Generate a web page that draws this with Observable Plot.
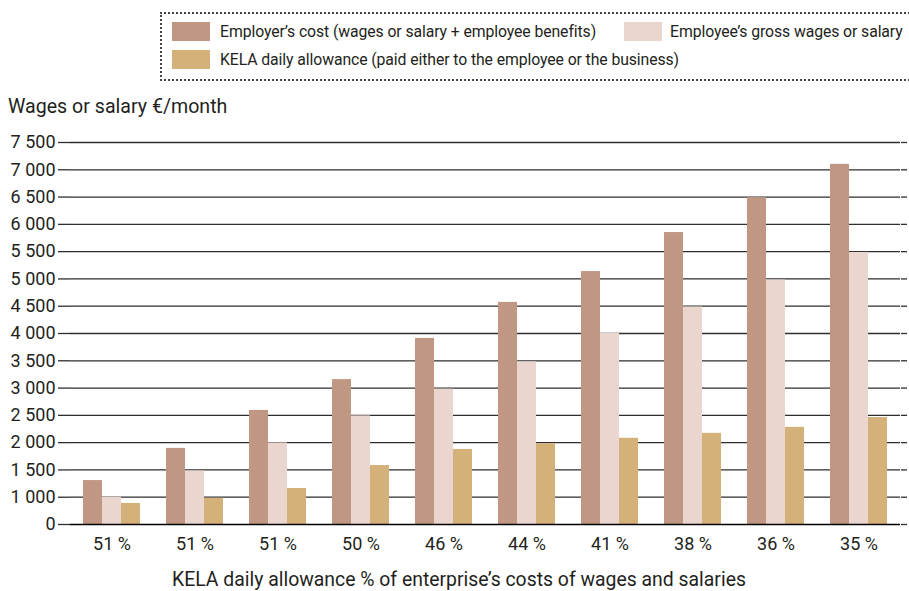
<!DOCTYPE html>
<html>
<head>
<meta charset="utf-8">
<script src="https://cdn.jsdelivr.net/npm/d3@7"></script>
<script src="https://cdn.jsdelivr.net/npm/@observablehq/plot@0.6"></script>
<style>
  html, body { margin: 0; padding: 0; background: #fff; }
  body { font-family: Roboto, "Liberation Sans", sans-serif; color: #231f20; }
  #wrap { position: relative; width: 909px; height: 591px; overflow: hidden; }
  .abs { position: absolute; white-space: nowrap; line-height: 1; }
  #legendBox { position: absolute; left: 160px; top: 12px; width: 800px; height: 65px;
    border-top: 2px dotted #444; border-bottom: 2px dotted #444; border-left: 2px dotted #444; }
  .sw { position: absolute; width: 38px; height: 19px; }
  .lt { font-size: 15.8px; letter-spacing: -0.1px; }
  #chart { position: absolute; left: 0; top: 120px; }
</style>
</head>
<body>
<div id="wrap">
  <div id="legendBox"></div>
  <div id="legend"></div>
  <div class="abs" id="ytitle" style="left:8px; top:97px; font-size:19.6px;"></div>
  <div id="chart"></div>
  <div class="abs" id="xtitle" style="left:0; width:918px; text-align:center; top:570px; font-size:19.4px;"></div>
</div>
<script>
// ---- data ----
const groups = ["51 %", "51 %", "51 %", "50 %", "46 %", "44 %", "41 %", "38 %", "36 %", "35 %"];
const seriesNames = [
  "Employer’s cost (wages or salary + employee benefits)",
  "Employee’s gross wages or salary",
  "KELA daily allowance (paid either to the employee or the business)"
];
const seriesColors = ["#bf9782", "#ead6ce", "#d5b17a"];
const employerCost = [1305, 1895, 2590, 3155, 3910, 4570, 5135, 5850, 6490, 7100];
const grossWages   = [1000, 1480, 1995, 2490, 2980, 3480, 4000, 4485, 4980, 5485];
const kelaAllowance = [885, 980, 1160, 1580, 1875, 1980, 2080, 2170, 2280, 2460];
const yFloor = 500;
const yTickValues = [500, 1000, 1500, 2000, 2500, 3000, 3500, 4000, 4500, 5000, 5500, 6000, 6500, 7000, 7500];
const yTickLabels = ["0", "1 000", "1 500", "2 000", "2 500", "3 000", "3 500", "4 000", "4 500", "5 000", "5 500", "6 000", "6 500", "7 000", "7 500"];
const yTitle = "Wages or salary €/month";
const xTitle = "KELA daily allowance % of enterprise’s costs of wages and salaries";

// ---- table ----
const seriesValues = [employerCost, grossWages, kelaAllowance];
const rows = [];
groups.forEach((g, i) => {
  seriesNames.forEach((s, j) => rows.push({gi: i, series: s, value: seriesValues[j][i]}));
});
const tickLabel = new Map(yTickValues.map((v, i) => [v, yTickLabels[i]]));

// ---- legend ----
const legend = document.getElementById("legend");
const legendPos = [
  {sx: 172, sy: 22, tx: 220, ty: 23.5},
  {sx: 624, sy: 22, tx: 670, ty: 23.5},
  {sx: 172, sy: 50, tx: 220, ty: 51.5}
];
seriesNames.forEach((s, j) => {
  const p = legendPos[j];
  const sw = document.createElement("div");
  sw.className = "sw";
  sw.style.left = p.sx + "px"; sw.style.top = p.sy + "px"; sw.style.background = seriesColors[j];
  legend.appendChild(sw);
  const t = document.createElement("div");
  t.className = "abs lt";
  t.style.left = p.tx + "px"; t.style.top = p.ty + "px";
  t.textContent = s;
  legend.appendChild(t);
});
document.getElementById("ytitle").textContent = yTitle;
document.getElementById("xtitle").textContent = xTitle;

// ---- chart ----
const chart = Plot.plot({
  width: 909,
  height: 440,
  marginTop: 22,
  marginBottom: 36,
  marginLeft: 67,
  marginRight: 6,
  style: {fontFamily: "Roboto, 'Liberation Sans', sans-serif", color: "#231f20", background: "transparent"},
  fx: {domain: d3.range(groups.length), padding: 0, axis: null, label: null},
  x: {domain: seriesNames, paddingInner: 0, paddingOuter: 0.64, axis: null},
  y: {domain: [yFloor, 7500], axis: null, label: null},
  color: {domain: seriesNames, range: seriesColors},
  marks: [
    Plot.ruleY(yTickValues.slice(1), {stroke: "#2e2e2e", strokeWidth: 1.3}),
    Plot.barY(rows, {fx: "gi", x: "series", y1: yFloor, y2: "value", fill: "series"}),
    Plot.ruleY([yFloor], {stroke: "#000", strokeWidth: 1.4}),
    Plot.axisY({ticks: yTickValues, tickFormat: d => tickLabel.get(d), tickSize: 12, tickPadding: 3,
      fontSize: 18, stroke: "#2e2e2e", strokeWidth: 1.3, label: null}),
    Plot.axisY({anchor: "right", ticks: yTickValues, tickFormat: () => "", tickSize: 6, stroke: "#2e2e2e", strokeWidth: 1.3, label: null}),
    Plot.axisFx({anchor: "bottom", tickFormat: i => groups[i], tickSize: 0, tickPadding: 13, fontSize: 18, label: null})
  ]
});
document.getElementById("chart").appendChild(chart);
</script>
</body>
</html>
